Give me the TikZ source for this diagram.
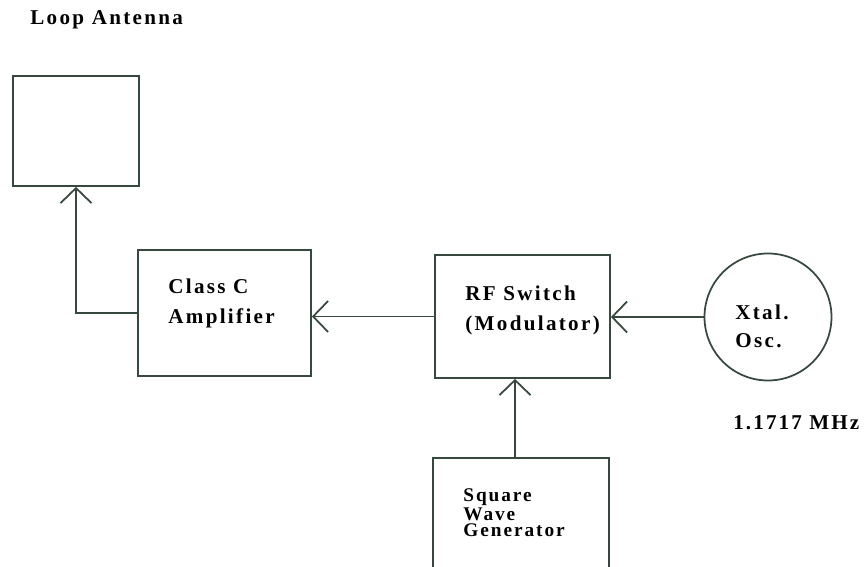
\documentclass[tikz,border=0pt]{standalone}
\usepackage{fontspec}
\usepackage{tikz}
\usetikzlibrary{arrows.meta,shapes,positioning}
\newfontfamily\blockfont[LetterSpace=11]{Liberation Serif}
\newfontfamily\smallblockfont[LetterSpace=10]{Liberation Serif}
\definecolor{ink}{RGB}{55,72,62}
\tikzset{
    block/.style={
    rectangle,draw=ink,line width=1pt,inner sep=0pt
    },
    osc/.style={
    circle,draw=ink,line width=1pt,inner sep=0pt
    },
    txt/.style={
    anchor=west,inner sep=0pt,align=left,
    font=\blockfont\bfseries\fontsize{12}{17}\selectfont
    },
    feed/.style={
    draw=ink,line width=1pt,-{Straight Barb[length=0.3cm,width=0.62cm]}
    },
}
\begin{document}
\begin{tikzpicture}[x=0.2mm,y=-0.2mm]
   \clip (0,0) rectangle (865,567);
   \useasboundingbox (0,0) rectangle (865,567);

   \node[txt] (title) at (30,20) {Loop Antenna};
   \node[block,minimum width=2.52cm,minimum height=2.2cm] (ant) at (76,131) {};

   \node[block,minimum width=3.46cm,minimum height=2.52cm] (amp) at (224.5,313) {};
   \node[txt] (amptxt) at (168,303) {Class C\\Amplifier};

   \node[block,minimum width=3.5cm,minimum height=2.46cm] (rf) at (522.5,316.5) {};
   \node[txt] (rftxt) at (465,310) {RF Switch\\(Modulator)};

   \node[osc,minimum size=2.54cm] (xtal) at (768,317) {};
   \node[txt,font=\blockfont\bfseries\fontsize{12}{16}\selectfont] (xtaltxt) at (735,326) {Xtal.\\Osc.};
   \node[txt,font=\smallblockfont\bfseries\fontsize{12}{17}\selectfont] (freq) at (733,423) {1.1717 MHz};

   \node[block,minimum width=3.52cm,minimum height=2.84cm] (sq) at (521,529) {};
   \node[txt,font=\smallblockfont\bfseries\fontsize{11}{9.5}\selectfont] (sqtxt) at (463,513) {Square\\Wave\\Generator};

   % signal path
   \draw[feed] (amp.west) -| (ant.south);
   \draw[feed] (rf.west) -- (rf.west -| amp.east);
   \draw[feed] (xtal.west) -- (xtal.west -| rf.east);
   \draw[feed] ([xshift=-1.5mm]rf.south |- sq.north) -- ([xshift=-1.5mm]rf.south);
\end{tikzpicture}
\end{document}
